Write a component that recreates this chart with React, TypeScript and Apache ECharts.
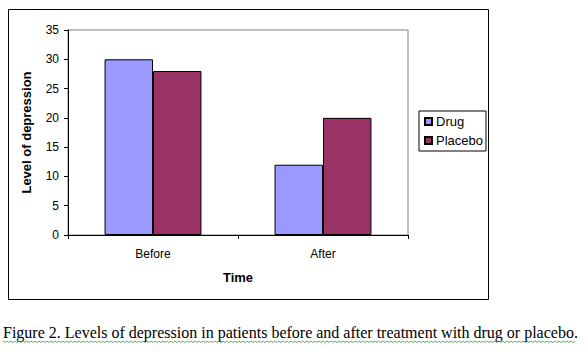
import React, { useEffect, useRef } from "react";
import * as echarts from "echarts";

const categories = ["Before", "After"];
const drugValues = [30, 12];
const placeboValues = [28, 20];
const seriesNames = ["Drug", "Placebo"];
const yTicks = { min: 0, max: 35, interval: 5 };
const caption = "Figure 2. Levels of depression in patients before and after treatment with drug or placebo.";

const SANS = "'Liberation Sans', Arial, sans-serif";

function wave(x0: number, x1: number, y: number) {
  const pts: number[][] = [];
  let up = true;
  for (let x = x0; x <= x1; x += 2) {
    pts.push([x, up ? y : y + 1.5]);
    up = !up;
  }
  return pts;
}

export default function App() {
  const ref = useRef<HTMLDivElement>(null);
  useEffect(() => {
    if (!ref.current) return;
    const chart = echarts.init(ref.current, undefined, { renderer: "svg" });
    chart.setOption({
      animation: false,
      backgroundColor: "#ffffff",
      grid: {
        left: 68,
        top: 30,
        width: 340,
        height: 205,
        show: true,
        borderColor: "#808080",
        borderWidth: 1,
        backgroundColor: "#ffffff",
      },
      legend: {
        orient: "vertical",
        left: 419,
        top: 111,
        data: seriesNames,
        borderColor: "#000",
        borderWidth: 1,
        padding: [4, 3, 4, 5],
        itemGap: 6,
        itemWidth: 7,
        itemHeight: 7,
        icon: "rect",
        textStyle: { fontFamily: SANS, fontSize: 13, color: "#000", padding: [0, 0, 0, -1] },
      },
      xAxis: {
        type: "category",
        data: categories,
        name: "Time",
        nameLocation: "middle",
        nameGap: 36,
        nameTextStyle: { fontFamily: SANS, fontSize: 13, fontWeight: "bold", color: "#000" },
        axisLine: { lineStyle: { color: "#000", width: 1 } },
        axisTick: { show: true, length: 4, lineStyle: { color: "#000" } },
        axisLabel: { fontFamily: SANS, fontSize: 12, color: "#000", margin: 13 },
      },
      yAxis: {
        type: "value",
        min: yTicks.min,
        max: yTicks.max,
        interval: yTicks.interval,
        name: "Level of depression",
        nameLocation: "middle",
        nameRotate: 90,
        nameGap: 35,
        nameTextStyle: { fontFamily: SANS, fontSize: 13, fontWeight: "bold", color: "#000" },
        axisLine: { show: true, lineStyle: { color: "#000", width: 1 } },
        axisTick: { show: true, length: 4, lineStyle: { color: "#000" } },
        axisLabel: { fontFamily: SANS, fontSize: 12, color: "#000", margin: 9 },
        splitLine: { show: false },
      },
      series: [
        {
          name: seriesNames[0],
          type: "bar",
          data: drugValues,
          barGap: "0%",
          barCategoryGap: "43%",
          itemStyle: { color: "#9999FF", borderColor: "#000", borderWidth: 1 },
        },
        {
          name: seriesNames[1],
          type: "bar",
          data: placeboValues,
          barGap: "0%",
          barCategoryGap: "43%",
          itemStyle: { color: "#993366", borderColor: "#000", borderWidth: 1 },
        },
      ],
      graphic: [
        {
          type: "rect",
          shape: { x: 8.5, y: 9.5, width: 480, height: 290 },
          style: { fill: "none", stroke: "#000", lineWidth: 1 },
          z: -1,
        },
        {
          type: "text",
          x: 3,
          y: 324,
          style: {
            text: caption,
            font: "16px 'Liberation Serif', 'Times New Roman', serif",
            fill: "#000",
          },
        },
        {
          type: "polyline",
          shape: { points: wave(3, 576, 341) },
          style: { stroke: "#3a9a3a", lineWidth: 0.8, fill: "none" },
        },
      ],
    });
    return () => chart.dispose();
  }, []);
  return (
    <div
      ref={ref}
      style={{ position: "fixed", left: 0, top: 0, width: 588, height: 352, background: "#fff" }}
    />
  );
}
